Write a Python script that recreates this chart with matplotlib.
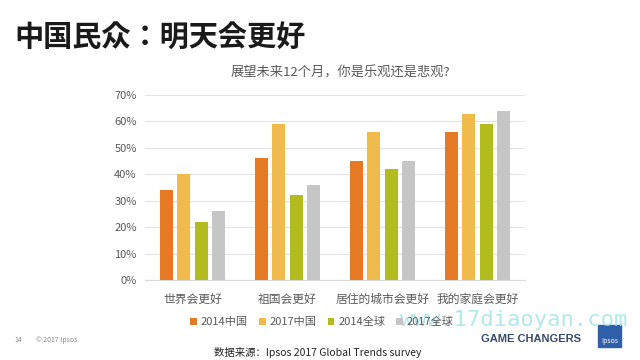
import numpy as np
import matplotlib.pyplot as plt
from matplotlib.patches import Rectangle

plt.rcParams['font.family'] = ['Noto Sans CJK SC', 'DejaVu Sans']

categories = ['世界会更好', '祖国会更好', '居住的城市会更好', '我的家庭会更好']
series_names = ['2014中国', '2017中国', '2014全球', '2017全球']
china_2014 = [34, 46, 45, 56]
china_2017 = [40, 59, 56, 63]
global_2014 = [22, 32, 42, 59]
global_2017 = [26, 36, 45, 64]
colors = ['#E57A25', '#F0BA4C', '#B3BC1F', '#C6C6C6']

fig = plt.figure(figsize=(6.4, 3.6), dpi=100)
ax = fig.add_axes([145 / 640, 1 - 280 / 360, 380 / 640, 185 / 360])

x = np.arange(len(categories))
w = 0.137
step = 0.18
for i, vals in enumerate([china_2014, china_2017, global_2014, global_2017]):
    ax.bar(x + (i - 1.5) * step, vals, width=w, color=colors[i], label=series_names[i], zorder=3)

ax.set_xlim(-0.5, 3.5)
ax.set_ylim(0, 70)
ax.set_yticks(range(0, 71, 10))
ax.set_yticklabels([f'{v}%' for v in range(0, 71, 10)], fontsize=8, color='#595959')
ax.set_xticks(x)
ax.set_xticklabels(categories, fontsize=8.5, color='#595959')
ax.tick_params(axis='x', length=0, pad=9)
ax.tick_params(axis='y', length=0, pad=6)
ax.grid(axis='y', color='#E4E4E4', linewidth=0.8, zorder=0)
for s in ['top', 'right', 'left']:
    ax.spines[s].set_visible(False)
ax.spines['bottom'].set_color('#D9D9D9')

# 标题（JP 字体的全角冒号居中）
fig.text(14 / 640, 1 - 38 / 360, '中国民众：明天会更好', fontsize=21, fontweight='bold',
         color='#1A1A1A', va='center', ha='left', family=['Noto Sans CJK JP', 'DejaVu Sans'])
fig.text(340 / 640, 1 - 73 / 360, '展望未来12个月，你是乐观还是悲观?', fontsize=9.5,
         color='#595959', va='center', ha='center')

# 图例
leg = fig.legend(*ax.get_legend_handles_labels(), loc='center',
                 bbox_to_anchor=(322 / 640, 1 - 322 / 360), ncol=4, frameon=False,
                 fontsize=8, handlelength=0.6, handleheight=0.6, columnspacing=1.0,
                 handletextpad=0.35, labelcolor='#595959', borderpad=0)

# 水印
fig.text(400 / 640, 1 - 320 / 360, 'www.17diaoyan.com', fontsize=16, color='#9FE3E6',
         family='DejaVu Sans Mono', va='center', ha='left', alpha=0.8)

# 页脚
fig.text(14 / 640, 1 - 340 / 360, '14', fontsize=5, color='#888888', va='center')
fig.text(36 / 640, 1 - 340 / 360, '© 2017 Ipsos', fontsize=5, color='#888888', va='center')
fig.text(581 / 640, 1 - 339 / 360, 'GAME CHANGERS', fontsize=8, fontweight='bold',
         color='#3A4A6B', va='center', ha='right', family='Liberation Sans')
fig.patches.append(Rectangle((598 / 640, 1 - 347 / 360), 23 / 640, 22 / 360,
                             transform=fig.transFigure, color='#2F5FA8'))
fig.text(609.5 / 640, 1 - 341 / 360, 'Ipsos', fontsize=5, color='white',
         va='center', ha='center')
fig.text(318 / 640, 1 - 352 / 360, '数据来源：Ipsos 2017 Global Trends survey', fontsize=7.5,
         color='#222222', va='center', ha='center')

fig.savefig('out.png', dpi=100)
